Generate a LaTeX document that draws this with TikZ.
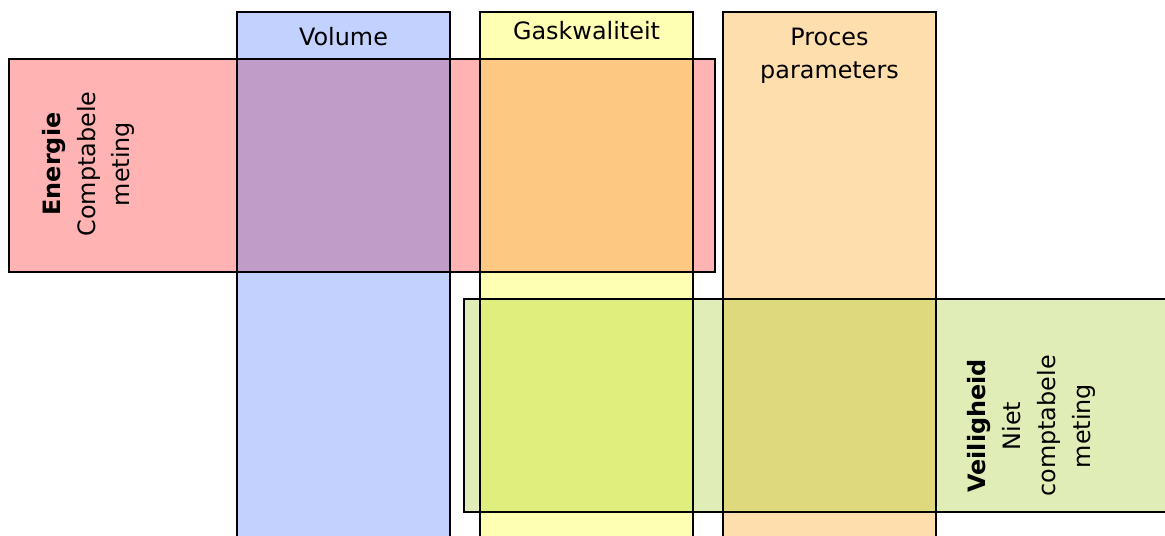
\documentclass[tikz,border=0pt]{standalone}
\usepackage{fontspec}
\setmainfont{DejaVu Sans}
\usetikzlibrary{fit}
\definecolor{enred}{HTML}{FFB3B3}
\definecolor{veigreen}{HTML}{E0EDB6}
\definecolor{volblue}{HTML}{C3D1FF}
\definecolor{gasyellow}{HTML}{FFFFB3}
\definecolor{proorange}{HTML}{FFDEAE}
\definecolor{envol}{HTML}{C09CC8}
\definecolor{engas}{HTML}{FDC882}
\definecolor{veigas}{HTML}{E0EE7E}
\definecolor{veipro}{HTML}{DFD97E}
\tikzset{
  band/.style={inner sep=0pt, outer sep=0pt},
  lbl/.style={font=\fontsize{13.6}{18.8}\selectfont, align=center, inner sep=0pt},
  vlbl/.style={lbl, rotate=90, font=\fontsize{13.6}{19.8}\selectfont},
  edge/.style={draw=black, line width=0.9pt}
}

\begin{document}
\begin{tikzpicture}[x=0.02cm, y=-0.02cm]
    \useasboundingbox (0,0) rectangle (1165,536);
    % bands and columns
    \node[band, fill=enred, fit={(9,59) (715,272)}] (energie) {};
    \node[band, fill=veigreen, fit={(464,299) (1168,512)}] (veilig) {};
    \node[band, fill=volblue, fit={(237,12) (450,539)}] (volume) {};
    \node[band, fill=gasyellow, fit={(480,12) (693,539)}] (gas) {};
    \node[band, fill=proorange, fit={(723,12) (936,539)}] (proces) {};
    % overlaps
    \fill[envol] (volume.west |- energie.north) rectangle (volume.east |- energie.south);
    \fill[engas] (gas.west |- energie.north) rectangle (gas.east |- energie.south);
    \fill[veigas] (gas.west |- veilig.north) rectangle (gas.east |- veilig.south);
    \fill[veipro] (proces.west |- veilig.north) rectangle (proces.east |- veilig.south);
    % outlines
    \foreach \n in {energie,veilig,volume,gas,proces}
        \draw[edge] (\n.north west) rectangle (\n.south east);
    % labels
    \node[lbl] (volume-t) at (343.5,37) {Volume};
    \node[lbl] (gas-t) at (586.5,30.5) {Gaskwaliteit};
    \node[lbl] (proces-t) at (829.5,56) {Proces\\parameters};
    \node[vlbl] (energie-t) at (88.5,164) {\textbf{Energie}\\Comptabele\\meting};
    \node[vlbl] (veilig-t) at (1031.5,426) {\textbf{Veiligheid}\\Niet\\comptabele\\meting};
\end{tikzpicture}
\end{document}
